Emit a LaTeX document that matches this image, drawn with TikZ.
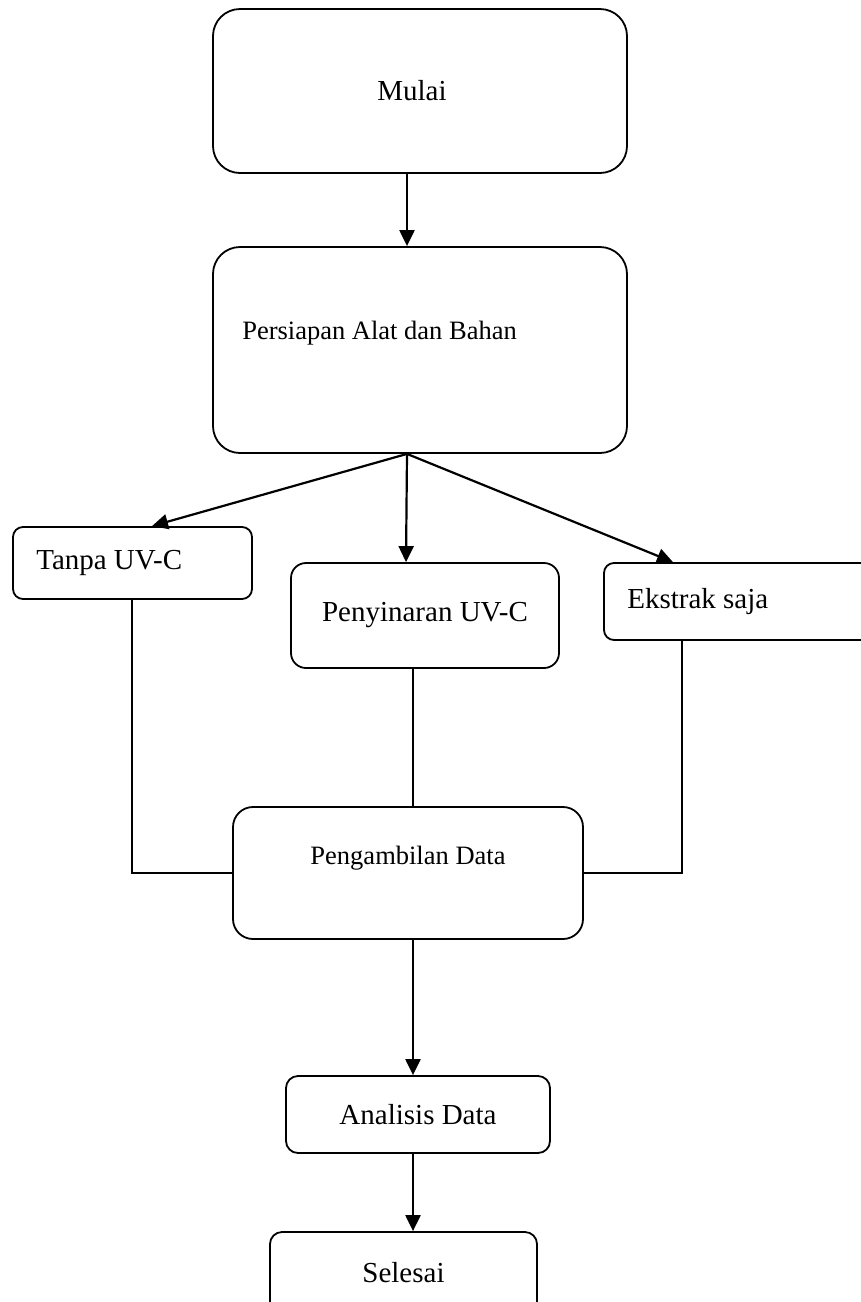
\documentclass[tikz,border=0pt]{standalone}
\usepackage{fontspec}
\setmainfont{Liberation Serif}
\usetikzlibrary{arrows.meta}
\begin{document}
\begin{tikzpicture}[x=1pt,y=-1pt,
  box/.style={draw, line width=1.8pt, rounded corners=#1, inner sep=0pt},
  big/.style={font=\fontsize{29}{34}\selectfont},
  small/.style={font=\fontsize{26.5}{31}\selectfont},
  txt/.style={inner sep=0pt},
  arr/.style={line width=2.2pt, -{Triangle[length=16pt,width=15pt]}},
  conn/.style={line width=2pt}]
\useasboundingbox[fill=white] (0,0) rectangle (861,1302);
% boxes
\node[box=27pt, minimum width=414pt, minimum height=164pt] (mulai) at (420,91) {};
\node[box=27pt, minimum width=414pt, minimum height=206pt] (persiapan) at (420,350) {};
\node[box=10pt, minimum width=239pt, minimum height=72pt] (tanpa) at (132.5,563) {};
\node[box=15pt, minimum width=268pt, minimum height=105pt, big] (penyinaran) at (425,615.5) {Penyinaran UV-C};
\node[box=10pt, minimum width=296pt, minimum height=77pt] (ekstrak) at (752,601.5) {};
\node[box=20pt, minimum width=350pt, minimum height=132pt] (pengambilan) at (408,873) {};
\node[box=12pt, minimum width=264pt, minimum height=77pt, big] (analisis) at (418,1114.5) {Analisis Data};
\node[box=12pt, minimum width=267pt, minimum height=82pt, big] (selesai) at (403.5,1273) {Selesai};
% texts
\node[txt, big] (tmulai) at (412,91) {Mulai};
\node[txt, small, anchor=west] (tpersiapan) at ([xshift=30pt,yshift=17pt]persiapan.west) {Persiapan Alat dan Bahan};
\node[txt, big, anchor=west] (ttanpa) at ([xshift=24pt]tanpa.west) {Tanpa UV-C};
\node[txt, big, anchor=west] (tekstrak) at ([xshift=24pt]ekstrak.west) {Ekstrak saja};
\node[txt, small] (tpengambilan) at ([yshift=15pt]pengambilan.center) {Pengambilan Data};
% connectors
\draw[arr] ([xshift=-13pt]mulai.south) -- ([xshift=-13pt]persiapan.north);
\coordinate (fork) at ([xshift=-13pt]persiapan.south);
\draw[arr] (fork) -- ([xshift=19.5pt]tanpa.north);
\draw[arr] (fork) -- ([xshift=-19pt]penyinaran.north);
\draw[arr] (fork) -- ([xshift=-79pt]ekstrak.north);
\draw[conn] ([xshift=-0.5pt]tanpa.south) |- (pengambilan.west);
\draw[conn] ([xshift=-12pt]penyinaran.south) -- ([xshift=5pt]pengambilan.north);
\draw[conn] ([xshift=-70pt]ekstrak.south) |- (pengambilan.east);
\draw[arr] ([xshift=5pt]pengambilan.south) -- ([xshift=-5pt]analisis.north);
\draw[arr] ([xshift=-5pt]analisis.south) -- ([xshift=9.5pt]selesai.north);
\end{tikzpicture}
\end{document}
